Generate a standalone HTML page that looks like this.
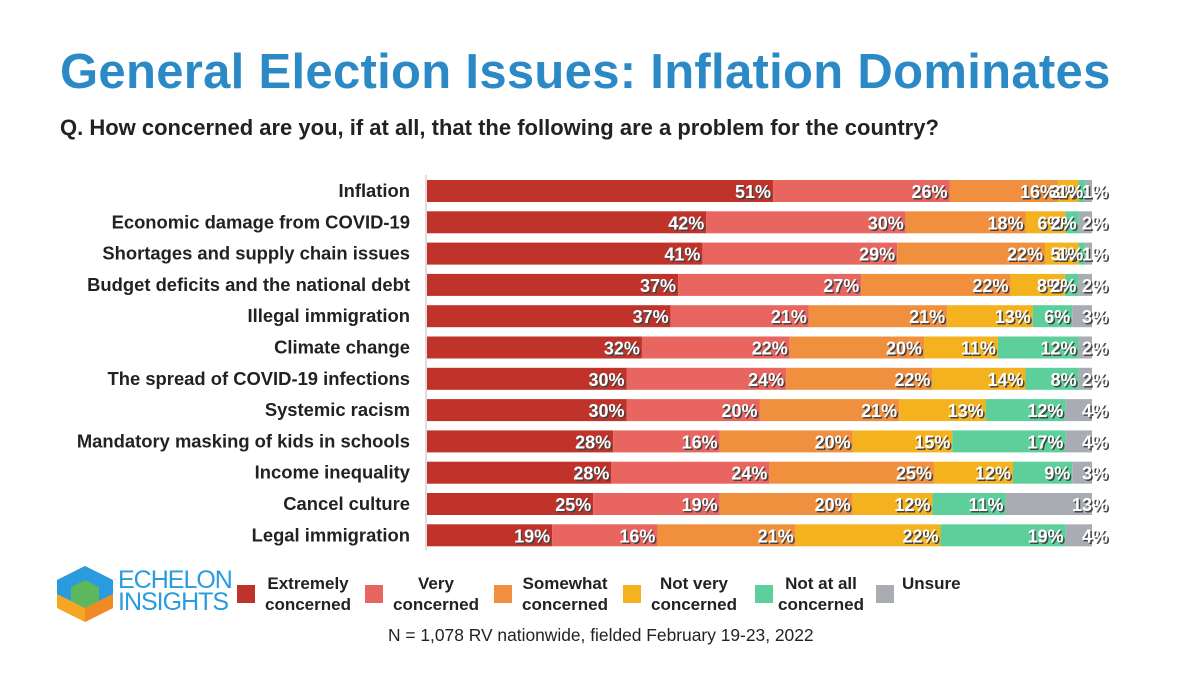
<!DOCTYPE html>
<html><head><meta charset="utf-8"><style>
body{margin:0;width:1200px;height:675px;background:#fff;font-family:"Liberation Sans",sans-serif;overflow:hidden;position:relative}
.t{position:absolute;white-space:nowrap}
.lg{position:absolute;font-weight:bold;font-size:17px;color:#222;text-align:center;line-height:21px}
.sq{position:absolute;width:18px;height:18px;top:585px}
</style></head><body>
<div class="t" style="left:60px;top:44px;font-size:49px;font-weight:bold;color:#2b8ac6;letter-spacing:0.3px">General Election Issues: Inflation Dominates</div>
<div class="t" style="left:60px;top:115px;font-size:22px;font-weight:bold;color:#222">Q. How concerned are you, if at all, that the following are a problem for the country?</div>
<svg id="chart" width="1200" height="560" style="position:absolute;left:0;top:0"></svg>
<svg width="60" height="56" style="position:absolute;left:55px;top:566px">
<polygon points="30,0 58,14 58,42 30,56 2,42 2,14" fill="#f5a623"/>
<polygon points="30,0 58,14 58,28 30,42 2,28 2,14" fill="#2b9be0"/>
<polygon points="30,14 44,21 44,35 30,42 16,35 16,21" fill="#5cb85c"/>
<polygon points="30,42 58,28 58,42 30,56" fill="#f08a24"/>
</svg>
<div class="t" style="left:118px;top:569px;font-size:25px;line-height:22px;color:#2b9be0;letter-spacing:-1px">ECHELON<br>INSIGHTS</div>
<div class="sq" style="left:237px;background:#c0332b"></div>
<div class="lg" style="left:253px;top:573px;width:110px">Extremely<br>concerned</div>
<div class="sq" style="left:365px;background:#e8665f"></div>
<div class="lg" style="left:381px;top:573px;width:110px">Very<br>concerned</div>
<div class="sq" style="left:494px;background:#f0903e"></div>
<div class="lg" style="left:510px;top:573px;width:110px">Somewhat<br>concerned</div>
<div class="sq" style="left:623px;background:#f5b21f"></div>
<div class="lg" style="left:639px;top:573px;width:110px">Not very<br>concerned</div>
<div class="sq" style="left:755px;background:#5ccf9b"></div>
<div class="lg" style="left:766px;top:573px;width:110px">Not at all<br>concerned</div>
<div class="sq" style="left:876px;background:#a9adb3"></div>
<div class="lg" style="left:902px;top:573px;width:70px;text-align:left">Unsure</div>
<div class="t" style="left:388px;top:625px;font-size:17.4px;color:#222">N = 1,078 RV nationwide, fielded February 19-23, 2022</div>
<script>
const categories=["Inflation","Economic damage from COVID-19","Shortages and supply chain issues","Budget deficits and the national debt","Illegal immigration","Climate change","The spread of COVID-19 infections","Systemic racism","Mandatory masking of kids in schools","Income inequality","Cancel culture","Legal immigration"];
const extremely=[51,42,41,37,37,32,30,30,28,28,25,19];
const very=[26,30,29,27,21,22,24,20,16,24,19,16];
const somewhat=[16,18,22,22,21,20,22,21,20,25,20,21];
const notVery=[3,6,5,8,13,11,14,13,15,12,12,22];
const notAtAll=[1,2,1,2,6,12,8,12,17,9,11,19];
const unsure=[1,2,1,2,3,2,2,4,4,3,13,4];
const seriesNames=["extremely","very","somewhat","not-very","not-at-all","unsure"];
const colors=["#c0332b","#e8665f","#f0903e","#f5b21f","#5ccf9b","#a9adb3"];
const series=[extremely,very,somewhat,notVery,notAtAll,unsure];
const svg=document.getElementById('chart');
const NS="http://www.w3.org/2000/svg";
const x0=427,x1=1092,y0=191,step=31.3,bh=22;
function xs(v,tot){return v/tot*(x1-x0);}
function yc(i){return y0+i*step;}
const ax=document.createElementNS(NS,'line');


ax.setAttribute('x1',x0-1);ax.setAttribute('x2',x0-1);ax.setAttribute('y1',175);ax.setAttribute('y2',550);ax.setAttribute('stroke','#bbb');
svg.appendChild(ax);
categories.forEach((c,i)=>{
  const lab=document.createElementNS(NS,'text');
  
  
  lab.setAttribute('x',410);lab.setAttribute('y',yc(i)+6);lab.setAttribute('text-anchor','end');
  lab.setAttribute('font-size','18.4');lab.setAttribute('font-weight','bold');lab.setAttribute('fill','#222');
  lab.textContent=c;svg.appendChild(lab);
  const tot=series.reduce((s,a)=>s+a[i],0);
  let acc=0;
  series.forEach((arr,k)=>{
    const v=arr[i];const x=x0+xs(acc,tot),w=xs(v,tot);
    const r=document.createElementNS(NS,'rect');
    
    
    r.setAttribute('x',x);r.setAttribute('y',yc(i)-bh/2);r.setAttribute('width',w);r.setAttribute('height',bh);r.setAttribute('fill',colors[k]);
    svg.appendChild(r);acc+=v;
  });
  acc=0;
  series.forEach((arr,k)=>{
    const v=arr[i];acc+=v;const xe=x0+xs(acc,tot);
    const lx=k==5?xe+16:xe-2;
    ['#444','#fff'].forEach((col,j)=>{
      const t=document.createElementNS(NS,'text');
      
      
      t.setAttribute('x',lx+(j?0:1.5));t.setAttribute('y',yc(i)+7+(j?0:1.5));t.setAttribute('text-anchor','end');
      t.setAttribute('font-size','18');t.setAttribute('font-weight','bold');t.setAttribute('fill',col);
      t.textContent=v+'%';svg.appendChild(t);
    });
  });
});
</script>
</body></html>
